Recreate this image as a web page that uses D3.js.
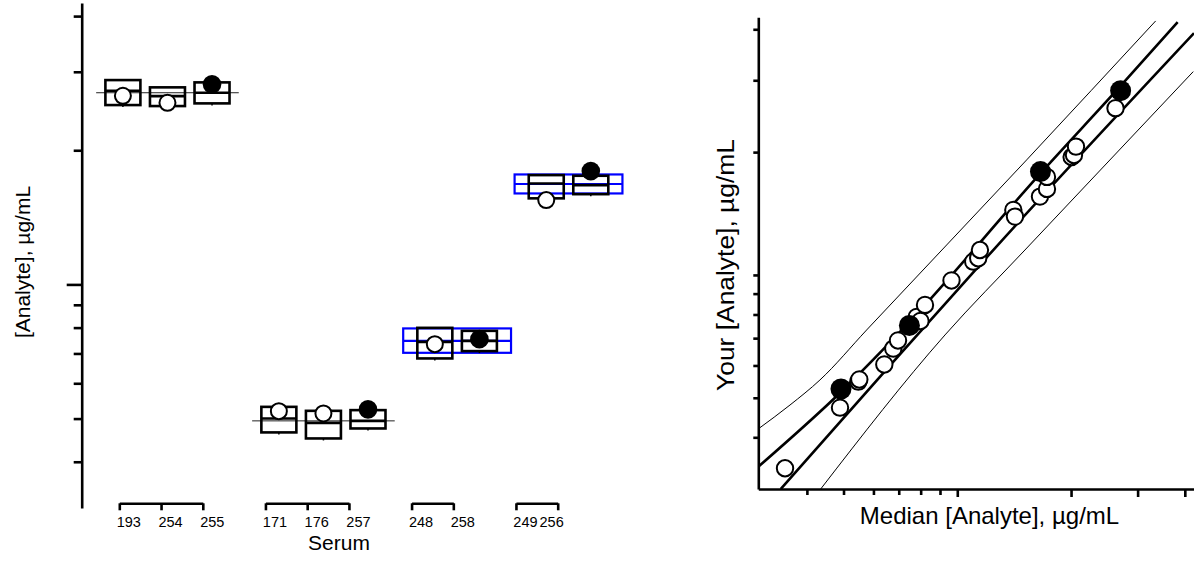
<!DOCTYPE html>
<html><head><meta charset="utf-8">
<script src="https://cdn.jsdelivr.net/npm/d3@7"></script>
<style>
body{margin:0;background:#fff;}
svg{display:block;font-family:"Liberation Sans",Arial,sans-serif;}
</style></head><body>
<svg id="chart" width="1194" height="563"></svg>
<script>
// ---------- data: left panel (per serum) ----------
const serums      = ["193","254","255","171","176","257","248","258","249","256"];
const serumGroup  = [0,0,0,1,1,1,2,2,3,3];
const boxLow      = [25.26,25.13,25.48, 4.655,4.512,4.751, 6.822,7.085, 15.60,15.94];
const boxHigh     = [28.74,27.68,28.40, 5.312,5.204,5.223, 7.990,7.867, 17.59,17.53];
const boxMid      = [27.19,26.46,26.92, 5.003,4.890,4.941, 7.433,7.471, 16.85,16.70];
const serumValue  = [26.50,25.56,28.11, 5.196,5.134,5.242, 7.345,7.537, 15.46,17.96];
const isYourLab   = [false,false,true, false,false,true, false,true, false,true];
// per group
const groupConsensus = [26.92, 4.941, 7.471, 16.80];
const bandLow        = [null, null, 7.023, 16.00];
const bandHigh       = [null, null, 7.966, 17.65];
const logTicks       = [4,5,6,7,8,9,10,20,30,40];

// ---------- data: right panel ----------
const openMedian = [3.501,4.894,5.472,5.505,6.411,6.771,6.968,7.808,7.990,8.214,9.653,11.02,11.36,11.48,14.07,14.21,16.55,17.27,17.27,20.07,20.36,20.61,26.22];
const openYours  = [3.359,4.729,5.477,5.545,6.035,6.598,6.910,7.889,7.714,8.444,9.694,10.78,10.99,11.51,14.43,13.90,15.56,16.25,17.39,19.46,19.68,20.63,25.63];
const yourMedian = [4.923,7.470,16.60,27.05];
const yourValue  = [5.255,7.521,17.92,28.29];
// limit curves: [median, your] pairs
const upperInner = [[2.975,3.389],[4.923,5.167],[7.47,7.670],[16.60,17.74],[27.05,29.06],[38.29,41.63]];
const lowerInner = [[3.411,2.988],[6.516,5.884],[12.45,11.51],[42.29,39.12]];
const upperOuter = [[2.975,4.195],[3.609,4.80],[4.332,5.529],[5.756,7.330],[15.26,19.14],[33.49,41.93]];
const lowerOuter = [[4.351,2.988],[9.278,7.127],[15.10,11.51],[42.11,31.50]];

const svg = d3.select("#chart");

// ================= LEFT PANEL =================
const pos = serums.map((s,i)=> i + 0.5*serumGroup[i]);
const xMark = d3.scaleLinear().domain([0,10.5]).range([122.9,590.8]);
const xTick = d3.scaleLinear().domain([0,10.5]).range([119.3,557.7]);
const yL = d3.scaleLog().domain([3.15,42.8]).range([508,3]);
const L = svg.append("g");

// y axis
const yAxL = L.append("g").attr("transform","translate(81.7,0)")
  .call(d3.axisLeft(yL).tickValues(logTicks).tickSize(8).tickSizeOuter(0).tickFormat(""));
yAxL.selectAll("path,line").attr("stroke","#000").attr("stroke-width",2.6);
yAxL.selectAll(".tick line").filter(d=>d===10).attr("x2",-15);

const groups = d3.range(4).map(g=>{
  const idx = serums.map((s,i)=>i).filter(i=>serumGroup[i]===g);
  return {g, first: idx[0], last: idx[idx.length-1], idx};
});

// blue bands
groups.filter(G=>bandLow[G.g]!==null).forEach(G=>{
  const x0 = xMark(pos[G.first]-0.71), x1 = xMark(pos[G.last]+0.71);
  L.append("rect").attr("x",x0).attr("width",x1-x0)
    .attr("y",yL(bandHigh[G.g])).attr("height",yL(bandLow[G.g])-yL(bandHigh[G.g]))
    .attr("fill","none").attr("stroke","#0000ff").attr("stroke-width",2.2);
  L.append("line").attr("x1",x0).attr("x2",x1)
    .attr("y1",yL(groupConsensus[G.g])).attr("y2",yL(groupConsensus[G.g]))
    .attr("stroke","#0000ff").attr("stroke-width",2.2);
});

// consensus thin lines
groups.filter(G=>bandLow[G.g]===null).forEach(G=>{
  L.append("line")
    .attr("x1",xMark(pos[G.first]-0.6)).attr("x2",xMark(pos[G.last]+0.6))
    .attr("y1",yL(groupConsensus[G.g])).attr("y2",yL(groupConsensus[G.g]))
    .attr("stroke","#222").attr("stroke-width",1);
});

// boxes
const hw = 17.5;
serums.forEach((s,i)=>{
  const cx = xMark(pos[i]);
  L.append("rect").attr("x",cx-hw).attr("width",2*hw)
    .attr("y",yL(boxHigh[i])).attr("height",yL(boxLow[i])-yL(boxHigh[i]))
    .attr("fill","none").attr("stroke","#000").attr("stroke-width",2.6);
  L.append("line").attr("x1",cx-hw).attr("x2",cx+hw)
    .attr("y1",yL(boxMid[i])).attr("y2",yL(boxMid[i]))
    .attr("stroke","#000").attr("stroke-width",2.6);
  L.append("line").attr("x1",cx).attr("x2",cx)
    .attr("y1",yL(boxLow[i])).attr("y2",yL(boxLow[i])+2)
    .attr("stroke","#000").attr("stroke-width",1.5);
});
// circles
serums.forEach((s,i)=>{
  const cx = xMark(pos[i]);
  if(isYourLab[i]){
    L.append("circle").attr("cx",cx).attr("cy",yL(serumValue[i])).attr("r",9.3).attr("fill","#000");
  } else {
    L.append("circle").attr("cx",cx).attr("cy",yL(serumValue[i])).attr("r",8)
      .attr("fill","#fff").attr("stroke","#000").attr("stroke-width",2);
  }
});

// bracket axes for groups (labels start at tick; last group packed)
groups.forEach(G=>{
  const p0 = pos[G.first], p1 = pos[G.last];
  const sc = d3.scaleLinear().domain([p0,p1]).range([xTick(p0),xTick(p1)]);
  const ax = L.append("g").attr("transform","translate(0,503.3)")
    .call(d3.axisBottom(sc).tickValues(G.idx.map(i=>pos[i])).tickSize(7).tickSizeOuter(0).tickFormat(""));
  ax.selectAll("path,line").attr("stroke","#000").attr("stroke-width",2.6);
  let nextX = null;
  G.idx.forEach((i,k)=>{
    let x = xTick(pos[i]) - 2.6;
    if(G.g===3 && k>0 && nextX!==null) x = nextX + 2;
    const t = L.append("text").attr("x",x).attr("y",527)
      .attr("font-size",14.5).attr("fill","#000").text(serums[i]);
    nextX = x + t.node().getComputedTextLength();
  });
});

L.append("text").attr("x",339).attr("y",550).attr("text-anchor","middle")
  .attr("font-size",21).text("Serum");
L.append("text").attr("transform","translate(22,262) rotate(-90)")
  .attr("text-anchor","middle").attr("dominant-baseline","central")
  .attr("font-size",21).text("[Analyte], µg/mL");

// ================= RIGHT PANEL =================
const xR = d3.scaleLog().domain([2.975,42.3]).range([758.3,1194]);
const yR = d3.scaleLog().domain([2.988,42.8]).range([489,17.3]);
const R = svg.append("g");

svg.append("defs").append("clipPath").attr("id","rclip")
  .append("rect").attr("x",758.3).attr("y",20).attr("width",440).attr("height",469);

const plot = R.append("g").attr("clip-path","url(#rclip)");
const line = d3.line().x(d=>xR(d[0])).y(d=>yR(d[1])).curve(d3.curveMonotoneX);
[[upperOuter,1],[lowerOuter,1],[upperInner,2.6],[lowerInner,2.6]].forEach(([pts,w])=>{
  plot.append("path").attr("d",line(pts)).attr("fill","none")
    .attr("stroke","#000").attr("stroke-width",w);
});

openMedian.forEach((m,i)=>{
  plot.append("circle").attr("cx",xR(m)).attr("cy",yR(openYours[i])).attr("r",8.2)
    .attr("fill","#fff").attr("stroke","#000").attr("stroke-width",2);
});
yourMedian.forEach((m,i)=>{
  plot.append("circle").attr("cx",xR(m)).attr("cy",yR(yourValue[i])).attr("r",10.5).attr("fill","#000");
});

const yAxR = R.append("g").attr("transform","translate(758.3,0)")
  .call(d3.axisLeft(yR).tickValues(logTicks).tickSize(5).tickSizeOuter(0).tickFormat(""));
yAxR.selectAll("path,line").attr("stroke","#000").attr("stroke-width",2.6);

const xAxR = R.append("g").attr("transform","translate(0,489)")
  .call(d3.axisBottom(xR).tickValues(logTicks).tickSize(6).tickSizeOuter(0).tickFormat(""));
xAxR.selectAll("path,line").attr("stroke","#000").attr("stroke-width",2.6);
xAxR.selectAll(".tick line").filter(d=>d>=10).attr("y2",8);

R.append("text").attr("x",989.5).attr("y",524).attr("text-anchor","middle")
  .attr("font-size",24).text("Median [Analyte], µg/mL");
R.append("text").attr("transform","translate(725,265) scale(1,1.1) rotate(-90)")
  .attr("text-anchor","middle").attr("dominant-baseline","central")
  .attr("font-size",24).text("Your [Analyte], µg/mL");
</script>
</body></html>
